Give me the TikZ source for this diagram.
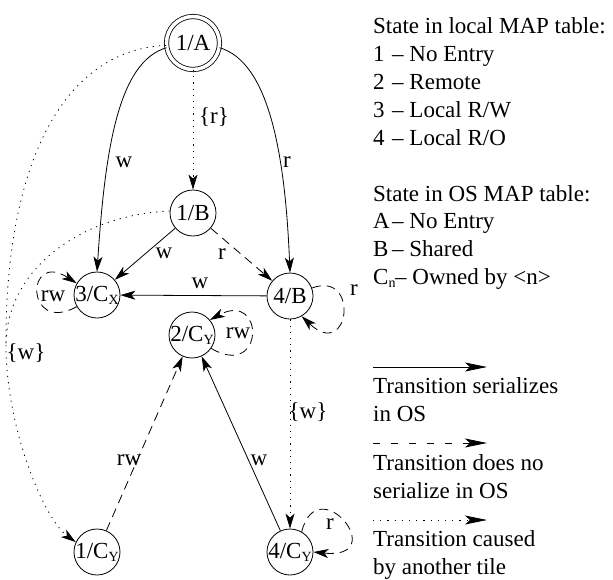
\documentclass[tikz,border=0pt]{standalone}
\usepackage{fontspec}
\setmainfont{Liberation Serif}
\usetikzlibrary{arrows.meta}
\newcommand{\lowsub}[1]{\raisebox{-3pt}{\fontsize{14}{14}\selectfont #1}}
\tikzset{
  state/.style={circle,draw,minimum size=46pt,inner sep=-4pt,line width=0.8pt},
  initstate/.style={state,double,double distance=3.5pt,minimum size=53pt},
  serial/.style={line width=0.8pt,-{Stealth[length=15pt,width=9pt,inset=4pt]}},
  nonserial/.style={serial,dash pattern=on 9pt off 6pt},
  othertile/.style={serial,dash pattern=on 1.2pt off 5pt},
  lbl/.style={inner sep=0pt},
  keytext/.style={inner sep=0pt,anchor=base west}
}
\begin{document}
\begin{tikzpicture}[x=1pt,y=-1pt,font=\fontsize{23}{28}\selectfont]
 \useasboundingbox (0,0) rectangle (613,579);
 \node[initstate] (s1A) at (193,43) {1/A};
 \node[state] (s1B) at (193,213) {1/B};
 \node[state] (s3CX) at (97,295) {3/C\lowsub{X}};
 \node[state] (s4B) at (290,296) {4/B};
 \node[state] (s2CY) at (192,335) {2/C\lowsub{Y}};
 \node[state] (s1CY) at (97,552) {1/C\lowsub{Y}};
 \node[state] (s4CY) at (290,552) {4/C\lowsub{Y}};
 \coordinate (jn) at (6,345);
 \draw[serial] (s1A.190) .. controls (118,62) and (105,150) .. (s3CX.north);
 \draw[serial] (s1A.350) .. controls (268,62) and (285,150) .. (s4B.north);
 \draw[othertile] (s1A) -- (s1B);
 \draw[serial] (s1B) -- (s3CX);
 \draw[nonserial] (s1B) -- (s4B);
 \draw[serial] (s4B) -- (s3CX);
 \draw[othertile] (s4B) -- (s4CY);
 \draw[nonserial] (s1CY) -- (s2CY);
 \draw[serial] (s4CY) -- (s2CY);
 \draw[othertile,-] (s1A.185) .. controls (60,50) and (5,170) .. (jn);
 \draw[othertile,-] (s1B.175) .. controls (80,215) and (6,270) .. (jn);
 \draw[othertile] (jn) .. controls (6,430) and (45,520) .. (s1CY.155);
 \draw[nonserial] (s3CX.210) .. controls (25,335) and (25,250) .. (s3CX.150);
 \draw[nonserial] (s4B.20) .. controls (360,270) and (350,362) .. (s4B.-60);
 \draw[nonserial] (s2CY.-35) .. controls (265,380) and (265,290) .. (s2CY.40);
 \draw[nonserial] (s4CY.60) .. controls (318,468) and (392,560) .. (s4CY.0);
 \node[lbl] (lw1) at (124,162) {w};
 \node[lbl] (lr1) at (287,162) {r};
 \node[lbl] (lr2) at (214,117) {\{r\}};
 \node[lbl] (lw2) at (164,253) {w};
 \node[lbl] (lr3) at (222,254) {r};
 \node[lbl] (lw3) at (200,283) {w};
 \node[lbl] (lrw1) at (53,296) {rw};
 \node[lbl] (lr4) at (354,290) {r};
 \node[lbl] (lrw2) at (238,333) {rw};
 \node[lbl] (lr5) at (330,524) {r};
 \node[lbl] (lw4) at (26,353) {\{w\}};
 \node[lbl] (lw5) at (308,412) {\{w\}};
 \node[lbl] (lrw3) at (129,460) {rw};
 \node[lbl] (lw6) at (259,460) {w};
 \node[keytext] (hd1) at (373,33) {State in local MAP table:};
 \node[keytext] (k1) at (373,61) {1};
 \node[keytext] (d1) at (392,61) {– No Entry};
 \node[keytext] (k2) at (373,89) {2};
 \node[keytext] (d2) at (392,89) {– Remote};
 \node[keytext] (k3) at (373,117) {3};
 \node[keytext] (d3) at (392,117) {– Local R/W};
 \node[keytext] (k4) at (373,145) {4};
 \node[keytext] (d4) at (392,145) {– Local R/O};
 \node[keytext] (hd2) at (373,201) {State in OS MAP table:};
 \node[keytext] (kA) at (373,228) {A};
 \node[keytext] (dA) at (392,228) {– No Entry};
 \node[keytext] (kB) at (373,256) {B};
 \node[keytext] (dB) at (392,256) {– Shared};
 \node[keytext] (kC) at (373,284) {C\lowsub{n}};
 \node[keytext] (dC) at (395,284) {– Owned by <n>};
 \coordinate (ls1) at (373,367);
 \coordinate (le1) at (487,367);
 \coordinate (ls2) at (373,443);
 \coordinate (le2) at (487,443);
 \coordinate (ls3) at (373,520);
 \coordinate (le3) at (487,520);
 \draw[serial,-{Stealth[length=22pt,width=9pt,inset=5pt]}] (ls1) -- (le1);
 \draw[nonserial,dash pattern=on 7pt off 11pt,-{Stealth[length=22pt,width=9pt,inset=5pt]}] (ls2) -- (le2);
 \draw[othertile,dash pattern=on 1.2pt off 6pt,-{Stealth[length=22pt,width=9pt,inset=5pt]}] (ls3) -- (le3);
 \node[keytext] (t1) at (373,393) {Transition serializes};
 \node[keytext] (t2) at (373,421) {in OS};
 \node[keytext] (t3) at (373,470) {Transition does no};
 \node[keytext] (t4) at (373,498) {serialize in OS};
 \node[keytext] (t5) at (373,546) {Transition caused};
 \node[keytext] (t6) at (373,574) {by another tile};
\end{tikzpicture}
\end{document}
